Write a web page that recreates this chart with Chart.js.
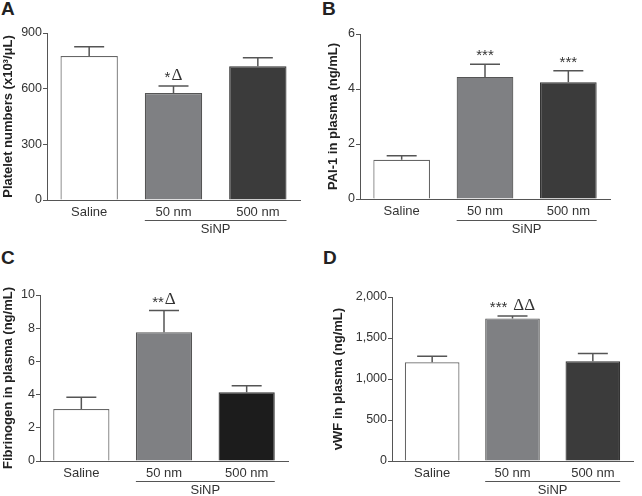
<!DOCTYPE html>
<html>
<head>
<meta charset="utf-8">
<script src="https://cdn.jsdelivr.net/npm/chart.js@4.4.1/dist/chart.umd.min.js"></script>
<style>
  body { margin: 0; background: #fff; }
  #wrap { position: relative; width: 642px; height: 496px; background: #fff; font-family: "Liberation Sans", Arial, sans-serif; }
  canvas { position: absolute; }
  .letter { position: absolute; font: bold 19px "Liberation Sans", Arial, sans-serif; color: #222; }
</style>
</head>
<body>
<div id="wrap">
  <div class="letter" style="left:1px;top:-2px">A</div>
  <div class="letter" style="left:322px;top:-2px">B</div>
  <div class="letter" style="left:1px;top:247px">C</div>
  <div class="letter" style="left:323px;top:247px">D</div>
  <canvas id="cA" width="321" height="248" style="left:0;top:0"></canvas>
  <canvas id="cB" width="321" height="248" style="left:321px;top:0"></canvas>
  <canvas id="cC" width="321" height="248" style="left:0;top:248px"></canvas>
  <canvas id="cD" width="321" height="248" style="left:321px;top:248px"></canvas>
</div>
<script>
// groups on the x axis
var groups = ['Saline', '50 nm', '500 nm'];
var groupLabel = 'SiNP';

// A - platelet numbers
var platelet = [776, 576, 721];
var plateletErr = [50, 38, 45];
// B - PAI-1
var pai1 = [1.43, 4.44, 4.25];
var pai1Err = [0.14, 0.46, 0.41];
// C - fibrinogen
var fibrinogen = [3.13, 7.75, 4.14];
var fibrinogenErr = [0.71, 1.31, 0.4];
// D - vWF
var vwf = [1204, 1739, 1216];
var vwfErr = [74, 28, 94];

// significance marks above each bar
var marksA = ['', '*Δ', ''];
var marksB = ['', '***', '***'];
var marksC = ['', '**Δ', ''];
var marksD = ['', '*** ΔΔ', ''];

var fillA = ['#ffffff', '#7f8083', '#3b3b3b'];
var fillC = ['#ffffff', '#7f8083', '#1c1c1c'];
var edge = ['#666666', '#555555', '#333333'];

var axisColor = '#555';
var textColor = '#333';
var fontFam = '"Liberation Sans", Arial, sans-serif';

// error bars, star marks and the SiNP bracket
var extrasPlugin = {
  id: 'extras',
  afterDatasetsDraw: function(chart) {
    var ctx = chart.ctx;
    var meta = chart.getDatasetMeta(0);
    var ys = chart.scales.y;
    var ds = chart.data.datasets[0];
    var errs = ds.errors;
    var marks = ds.marks;
    ctx.save();
    for (var i = 0; i < meta.data.length; i++) {
      var bar = meta.data[i];
      var top = ys.getPixelForValue(ds.data[i] + errs[i]);
      var base = ys.getPixelForValue(ds.data[i]);
      ctx.strokeStyle = axisColor;
      ctx.lineWidth = 1.5;
      ctx.beginPath();
      ctx.moveTo(bar.x, base);
      ctx.lineTo(bar.x, top);
      ctx.moveTo(bar.x - 15, top);
      ctx.lineTo(bar.x + 15, top);
      ctx.stroke();

      var m = marks[i];
      if (m) {
        var stars = (m.match(/\*+/) || [''])[0];
        var deltas = (m.match(/Δ+/) || [''])[0];
        var gap = m.indexOf(' ') >= 0 ? 6 : 1;
        ctx.font = '15px ' + fontFam;
        var ws = ctx.measureText(stars).width;
        ctx.font = '17px "Liberation Serif", serif';
        var wd = ctx.measureText(deltas).width;
        var total = ws + (deltas ? gap + wd : 0);
        var x0 = bar.x - total / 2;
        var ty = top - 11;
        ctx.fillStyle = textColor;
        ctx.textBaseline = 'middle';
        ctx.textAlign = 'left';
        ctx.font = '15px ' + fontFam;
        ctx.fillText(stars, x0, ty + 3);
        if (deltas) {
          ctx.font = '17px "Liberation Serif", serif';
          ctx.fillText(deltas, x0 + ws + gap, ty);
        }
      }
    }
    // bracket under the two SiNP groups
    var b1 = meta.data[1], b2 = meta.data[2];
    var ly = chart.chartArea.bottom + ds.bracketGap;
    ctx.strokeStyle = axisColor;
    ctx.lineWidth = 1;
    ctx.beginPath();
    ctx.moveTo(b1.x - b1.width / 2, ly + 0.5);
    ctx.lineTo(b2.x + b2.width / 2, ly + 0.5);
    ctx.stroke();
    ctx.fillStyle = textColor;
    ctx.font = '13px ' + fontFam;
    ctx.textAlign = 'center';
    ctx.textBaseline = 'middle';
    ctx.fillText(groupLabel, (b1.x + b2.x) / 2, ly + 9);
    ctx.restore();
  }
};

function makePanel(id, values, errs, marks, fills, title, yMax, yStep, box) {
  new Chart(document.getElementById(id), {
    type: 'bar',
    data: {
      labels: groups,
      datasets: [{
        data: values,
        errors: errs,
        marks: marks,
        bracketGap: box.bracket,
        backgroundColor: fills,
        borderColor: edge,
        borderWidth: 1.2,
        barPercentage: 0.68,
        categoryPercentage: 1.0
      }]
    },
    options: {
      responsive: false,
      animation: false,
      layout: { padding: { left: 0, top: box.top, right: box.right, bottom: 0 } },
      plugins: { legend: { display: false }, tooltip: { enabled: false } },
      scales: {
        x: {
          grid: { display: false, drawTicks: false, tickLength: 0 },
          border: { display: true, color: axisColor, width: 1 },
          ticks: { color: textColor, padding: 5, font: { family: fontFam, size: 13 } },
          afterFit: function(s) { s.height = box.xh; }
        },
        y: {
          min: 0,
          max: yMax,
          ticks: { stepSize: yStep, color: textColor, padding: 1, font: { family: fontFam, size: 12.5 } },
          grid: { display: true, drawOnChartArea: false, tickLength: 4, color: axisColor },
          border: { display: true, color: axisColor, width: 1 },
          title: {
            display: true,
            text: title,
            color: '#222',
            padding: { top: box.tpad, bottom: 0 },
            font: { family: fontFam, size: 13, weight: 'bold' }
          },
          afterFit: function(s) { s.width = box.yw; }
        }
      }
    },
    plugins: [extrasPlugin]
  });
}

makePanel('cA', platelet, plateletErr, marksA, fillA, 'Platelet numbers (x10³/μL)', 900, 300,
  { yw: 47, top: 33, right: 21, xh: 48, tpad: 1, bracket: 20 });
makePanel('cB', pai1, pai1Err, marksB, fillA, 'PAI-1 in plasma (ng/mL)', 6, 2,
  { yw: 39, top: 34, right: 32, xh: 49, tpad: 5, bracket: 21 });
makePanel('cC', fibrinogen, fibrinogenErr, marksC, fillC, 'Fibrinogen in plasma (ng/mL)', 10, 2,
  { yw: 40, top: 47, right: 33, xh: 35, tpad: 1, bracket: 20 });
makePanel('cD', vwf, vwfErr, marksD, fillA, 'vWF in plasma (ng/mL)', 2000, 500,
  { yw: 71, top: 49, right: 9, xh: 35, tpad: 10, bracket: 20 });
</script>
</body>
</html>
